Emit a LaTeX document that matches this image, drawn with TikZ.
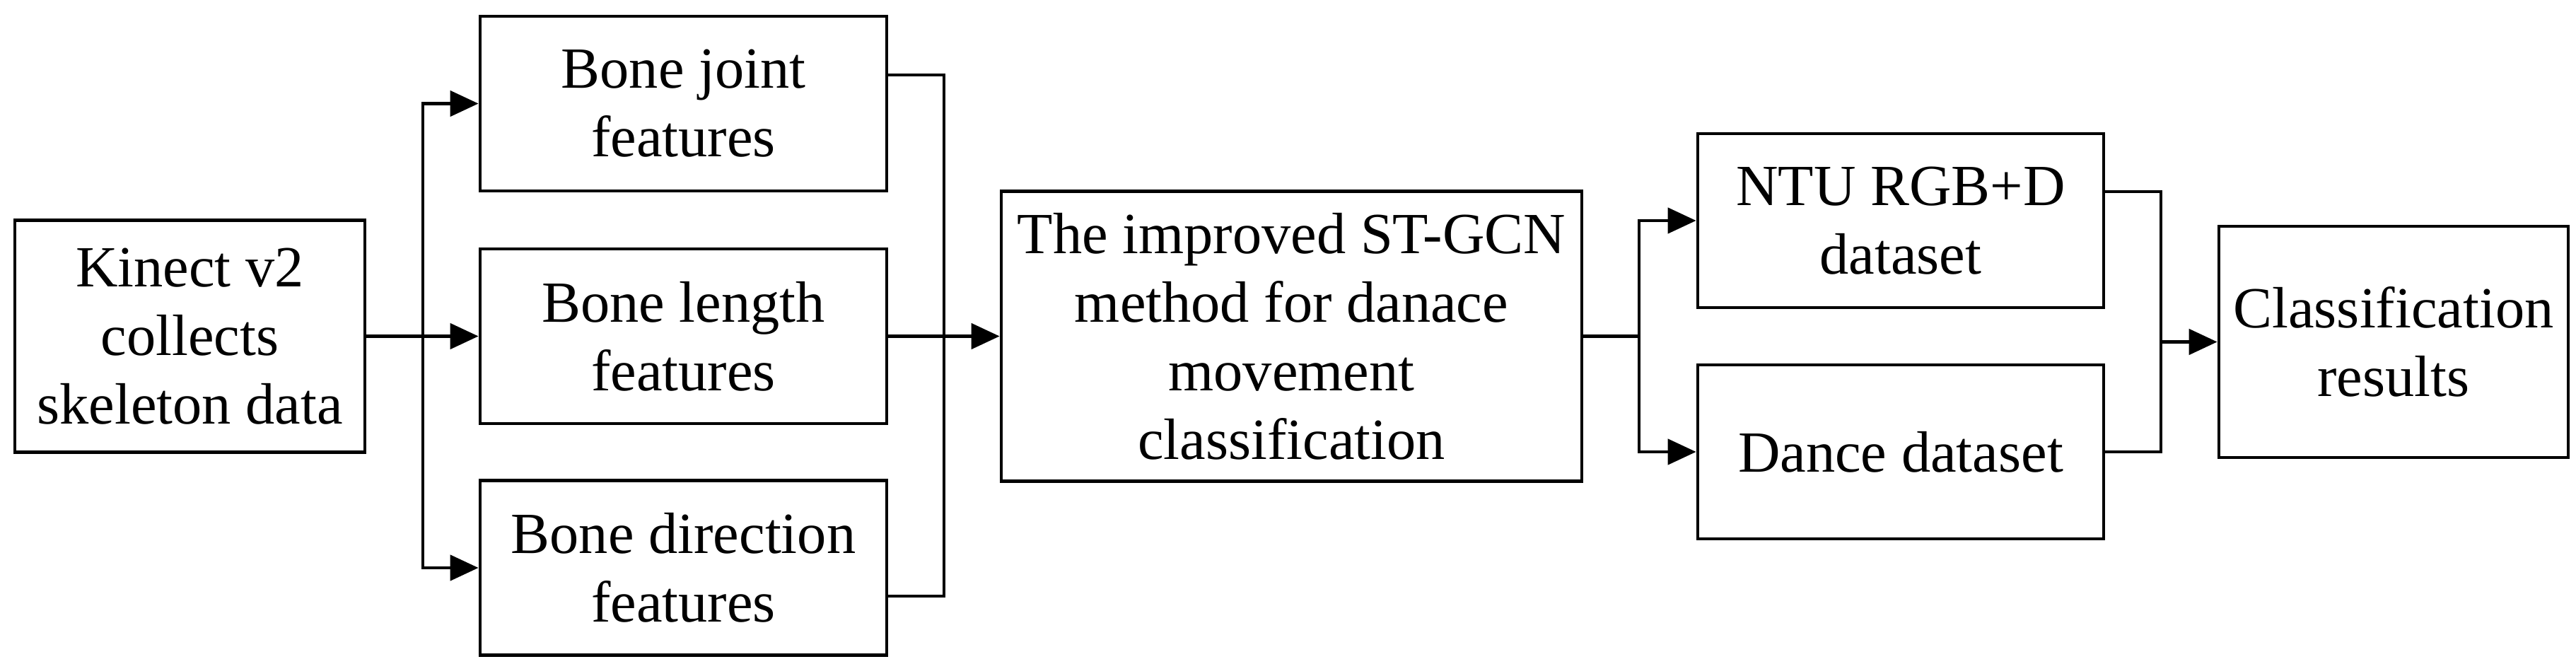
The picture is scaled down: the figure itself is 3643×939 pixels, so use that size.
\documentclass[tikz,border=0pt]{standalone}
\usepackage{fontspec}
\setmainfont{Liberation Serif}
\usetikzlibrary{arrows.meta,calc}
\begin{document}
\begin{tikzpicture}[x=0.25pt,y=-0.25pt,
 box/.style={draw,line width=1.2pt,align=center,inner sep=0pt,font=\fontsize{20.6}{24.25}\selectfont},
 conn/.style={line width=1.2pt},
 arr/.style={conn,-{Triangle[length=10pt,width=9pt]}}]
\useasboundingbox (0,0) rectangle (3643,939);
\node[box,minimum width=123.75pt,minimum height=82pt] (kin) at (268.5,475.5) {Kinect v2\\collects\\skeleton data};
\node[box,minimum width=143.75pt,minimum height=61.75pt] (bj) at (966.5,146.5) {Bone joint\\features};
\node[box,minimum width=143.75pt,minimum height=61.75pt] (bl) at (966.5,475.5) {Bone length\\features};
\node[box,minimum width=143.75pt,minimum height=61.75pt] (bd) at (966.5,803) {Bone direction\\features};
\node[box,minimum width=205.25pt,minimum height=102.5pt] (st) at (1826.5,475.5) {The improved ST-GCN\\method for danace\\movement\\classification};
\node[box,minimum width=143.5pt,minimum height=61.5pt] (ntu) at (2688,312) {NTU RGB+D\\dataset};
\node[box,minimum width=143.5pt,minimum height=61.5pt] (dance) at (2688,639) {Dance dataset};
\node[box,minimum width=123.5pt,minimum height=81.75pt] (cls) at (3385,483.5) {Classification\\results};
% split 1
\coordinate (s1) at (598,475.5);
\draw[conn] (kin.east) -- (s1);
\draw[arr] (s1) |- (bj.west);
\draw[arr] (s1) -- (bl.west);
\draw[arr] (s1) |- (bd.west);
% merge 1
\coordinate (m1) at (1335,475.5);
\draw[conn] ($(bj.east)+(0,-40.5)$) -| (m1);
\draw[conn] ($(bd.east)+(0,40)$) -| (m1);
\draw[arr] (bl.east) -- (st.west);
% split 2
\coordinate (s2) at (2318,475.5);
\draw[conn] (st.east) -- (s2);
\draw[arr] (s2) |- (ntu.west);
\draw[arr] (s2) |- (dance.west);
% merge 2
\coordinate (m2) at (3056,483.5);
\draw[conn] ($(ntu.east)+(0,-41)$) -| (m2);
\draw[conn] (dance.east) -| (m2);
\draw[arr] (m2) -- (cls.west);
\end{tikzpicture}
\end{document}
